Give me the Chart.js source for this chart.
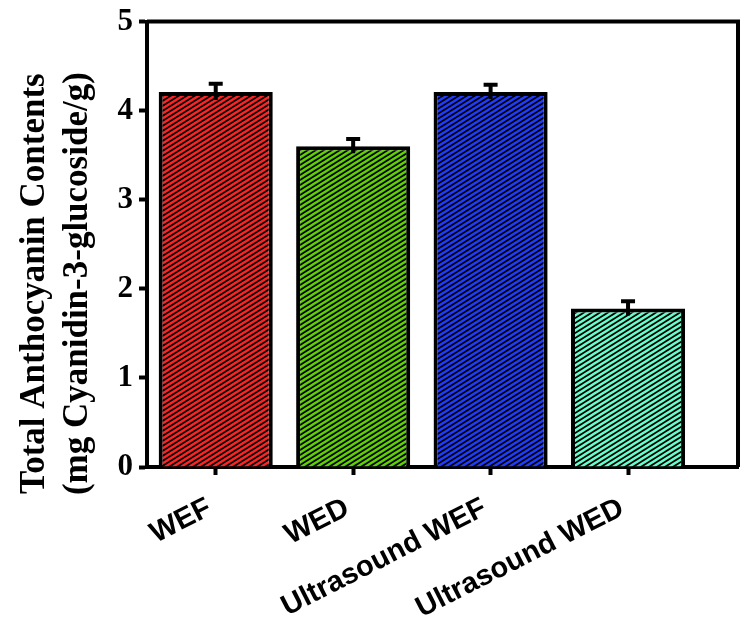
<!DOCTYPE html>
<html>
<head>
<meta charset="utf-8">
<script src="https://cdn.jsdelivr.net/npm/chart.js@4"></script>
<style>
  body { margin: 0; background: #fff; }
  #wrap { width: 746px; height: 628px; }
</style>
</head>
<body>
<div id="wrap"><canvas id="anthoChart"></canvas></div>
<script>
const categorias = ['WEF', 'WED', 'Ultrasound WEF', 'Ultrasound WED'];
const valores = [4.21, 3.60, 4.21, 1.78];
const erros = [0.09, 0.08, 0.08, 0.08];
const cores = ['#ff2424', '#5fd000', '#1f3cff', '#66ffcc'];
const yTicks = [0, 1, 2, 3, 4, 5];

// hachura diagonal colorida sobre fundo preto
function criarPadrao(cor) {
    const c = document.createElement('canvas');
    c.width = 8; c.height = 5;
    const g = c.getContext('2d');
    g.fillStyle = '#000';
    g.fillRect(0, 0, 8, 5);
    g.strokeStyle = cor;
    g.lineWidth = 2.4;
    for (let k = -2; k <= 3; k++) {
        const c0 = 5 * k;
        g.beginPath();
        g.moveTo(-8, c0 + 5);
        g.lineTo(16, c0 - 10);
        g.stroke();
    }
    return g.createPattern(c, 'repeat');
}

const barrasErro = {
    id: 'barrasErro',
    afterDatasetsDraw(chart) {
        const ctx = chart.ctx;
        const meta = chart.getDatasetMeta(0);
        const y = chart.scales.y;
        ctx.save();
        ctx.strokeStyle = '#000';
        ctx.lineWidth = 4;
        meta.data.forEach((bar, i) => {
            const topo = y.getPixelForValue(valores[i] + erros[i]);
            const base = y.getPixelForValue(valores[i] - erros[i]);
            ctx.beginPath();
            ctx.moveTo(bar.x, base);
            ctx.lineTo(bar.x, topo);
            ctx.moveTo(bar.x - 7, topo);
            ctx.lineTo(bar.x + 7, topo);
            ctx.stroke();
        });
        ctx.restore();
    }
};

const moldura = {
    id: 'moldura',
    afterDraw(chart) {
        const a = chart.chartArea;
        const ctx = chart.ctx;
        ctx.save();
        ctx.strokeStyle = '#000';
        ctx.lineWidth = 4;
        ctx.beginPath();
        ctx.moveTo(a.left, a.top);
        ctx.lineTo(a.right, a.top);
        ctx.lineTo(a.right, a.bottom);
        ctx.stroke();
        ctx.restore();
    }
};

const ctx = document.getElementById('anthoChart').getContext('2d');
new Chart(ctx, {
    type: 'bar',
    data: {
        datasets: [{
            data: valores.map((v, i) => ({ x: i, y: v })),
            backgroundColor: cores.map(criarPadrao),
            borderColor: '#000',
            borderWidth: 4,
            barPercentage: 0.83,
            categoryPercentage: 1
        }]
    },
    options: {
        responsive: true,
        maintainAspectRatio: false,
        devicePixelRatio: 1,
        animation: false,
        layout: { padding: { top: 18, right: 8, left: 0, bottom: 0 } },
        plugins: { legend: { display: false }, tooltip: { enabled: false } },
        scales: {
            x: {
                type: 'linear',
                min: -0.5,
                max: 3.8,
                offset: false,
                afterBuildTicks: s => { s.ticks = categorias.map((_, i) => ({ value: i })); },
                afterFit: s => { s.height = 161; },
                grid: { offset: false, drawOnChartArea: false, tickLength: 8, tickWidth: 4, tickColor: '#000' },
                border: { color: '#000', width: 4 },
                ticks: {
                    color: '#000',
                    minRotation: 27,
                    maxRotation: 27,
                    padding: 16,
                    labelOffset: -6,
                    font: { family: 'Liberation Sans', weight: 'bold', size: 29 },
                    callback: v => categorias[v]
                }
            },
            y: {
                min: 0,
                max: 5,
                afterBuildTicks: s => { s.ticks = yTicks.map(v => ({ value: v })); },
                afterFit: s => { s.width = 147; },
                grid: { drawOnChartArea: false, tickLength: 8, tickWidth: 4, tickColor: '#000' },
                border: { color: '#000', width: 4 },
                ticks: {
                    color: '#000',
                    padding: 6,
                    font: { family: 'Liberation Serif', weight: 'bold', size: 31, lineHeight: 1 }
                },
                title: {
                    display: true,
                    text: ['Total Anthocyanin Contents         ', '(mg Cyanidin-3-glucoside/g)         '],
                    color: '#000',
                    padding: { top: 13, bottom: 0 },
                    font: { family: 'Liberation Serif', weight: 'bold', size: 35, lineHeight: 1.23 }
                }
            }
        }
    },
    plugins: [barrasErro, moldura]
});
</script>
</body>
</html>
